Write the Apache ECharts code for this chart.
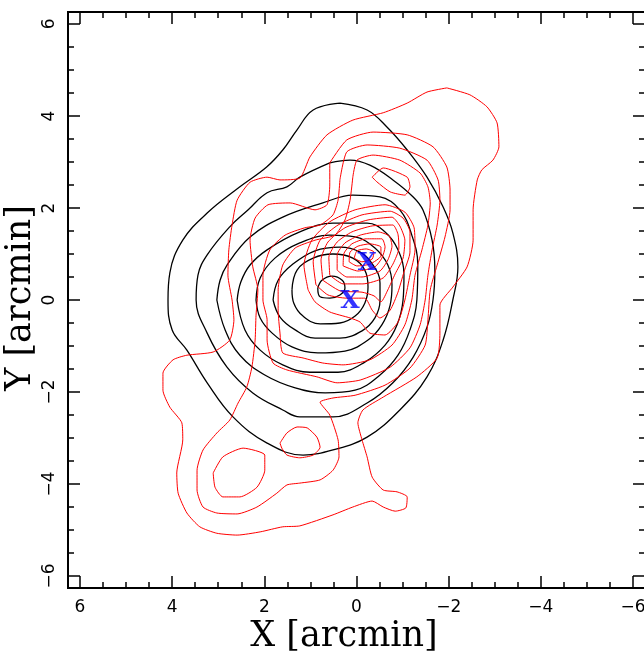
<!DOCTYPE html>
<html>
<head>
<meta charset="utf-8">
<script src="https://cdn.jsdelivr.net/npm/echarts@6.0.0/dist/echarts.min.js"></script>
<style>
  html, body { margin: 0; padding: 0; background: #fff; }
  #chart { width: 644px; height: 656px; }
</style>
</head>
<body>
<div id="chart"></div>
<script>
// axis ticks (arcmin)
var majorTicks = [-6, -4, -2, 0, 2, 4, 6];
var minorTicks = [-6, -5.5, -5, -4.5, -4, -3.5, -3, -2.5, -2, -1.5, -1, -0.5, 0, 0.5, 1, 1.5, 2, 2.5, 3, 3.5, 4, 4.5, 5, 5.5, 6];

// black contours, outer -> inner, [x, y] in arcmin
var black1 = [[0.36,4.28],[0.94,4.13],[1.29,3.70],[1.60,3.26],[1.95,2.89],[2.53,2.46],[3.24,1.89],[3.77,1.30],[4.05,0.59],[4.09,0],[4.00,-0.65],[3.68,-1.09],[3.24,-1.80],[2.68,-2.54],[1.94,-3.11],[1.16,-3.37],[0.51,-3.26],[-0.23,-2.98],[-0.94,-2.39],[-1.53,-1.67],[-1.88,-0.87],[-2.09,0],[-2.20,0.72],[-2.09,1.46],[-1.88,2.02],[-1.53,2.67],[-1.10,3.26],[-0.66,3.76],[-0.23,4.13]];
var black2 = [[0.58,2.98],[0.14,3.04],[-0.29,2.93],[-0.79,2.61],[-1.23,2.24],[-1.44,1.96],[-1.64,1.30],[-1.70,0.65],[-1.66,0],[-1.53,-0.59],[-1.23,-1.24],[-0.79,-1.80],[-0.23,-2.24],[0.51,-2.54],[1.23,-2.54],[1.60,-2.39],[2.25,-2.02],[2.81,-1.46],[3.24,-0.72],[3.48,0],[3.44,0.54],[3.24,0.98],[2.75,1.59],[2.35,1.96],[1.94,2.33],[1.51,2.46],[1.23,2.67]];
var black3 = [[3.03,0],[2.96,0.43],[2.81,0.76],[2.31,1.37],[1.60,1.80],[0.73,2.11],[0.08,2.28],[-0.51,2.24],[-0.94,1.96],[-1.20,1.41],[-1.33,0.76],[-1.31,0],[-1.16,-0.65],[-0.90,-1.20],[-0.51,-1.63],[0.03,-1.96],[0.68,-2.02],[1.33,-1.91],[1.99,-1.63],[2.53,-1.20],[2.85,-0.65]];
var black4 = [[2.59,0],[2.51,0.39],[2.31,0.76],[1.94,1.09],[1.23,1.48],[0.51,1.67],[-0.23,1.67],[-0.62,1.48],[-0.90,1.09],[-1.03,0.54],[-1.01,0],[-0.88,-0.54],[-0.62,-0.98],[-0.18,-1.35],[0.40,-1.57],[1.01,-1.57],[1.60,-1.41],[2.09,-1.09],[2.42,-0.65]];
var black5 = [[2.18,0],[2.09,0.48],[1.77,0.91],[1.23,1.24],[0.58,1.41],[0.03,1.37],[-0.40,1.13],[-0.68,0.76],[-0.77,0.33],[-0.73,-0.11],[-0.55,-0.54],[-0.25,-0.87],[0.25,-1.11],[0.84,-1.15],[1.40,-1.02],[1.83,-0.72],[2.09,-0.39]];
var black6 = [[1.81,0],[1.70,0.43],[1.38,0.78],[0.90,1.07],[0.36,1.15],[-0.08,1.04],[-0.36,0.76],[-0.51,0.37],[-0.51,0],[-0.40,-0.39],[-0.12,-0.67],[0.36,-0.83],[0.90,-0.83],[1.33,-0.65],[1.66,-0.37]];
var black7 = [[1.40,0.22],[1.29,0.65],[0.94,0.91],[0.51,1.00],[0.08,0.91],[-0.18,0.65],[-0.25,0.28],[-0.18,-0.07],[0.03,-0.35],[0.36,-0.50],[0.79,-0.52],[1.16,-0.35],[1.36,-0.07]];
var black8 = [[0.84,0.26],[0.75,0.43],[0.53,0.52],[0.31,0.43],[0.25,0.26],[0.36,0.11],[0.58,0.04],[0.79,0.07]];

// red contours
var redOuter = [[-1.96,4.61],[-2.46,4.46],[-2.83,4.20],[-3.05,3.85],[-3.09,3.33],[-2.96,3.04],[-2.72,2.83],[-2.62,2.61],[-2.53,1.96],[-2.53,1.30],[-2.40,0.72],[-2.09,0.28],[-1.81,-0.11],[-1.81,-0.72],[-1.75,-1.26],[-1.31,-1.67],[-0.58,-2.11],[-0.14,-2.39],[-0.03,-2.67],[-0.12,-3.04],[-0.23,-3.41],[-0.34,-3.85],[-0.58,-4.13],[-0.88,-4.17],[-1.10,-4.28],[-1.07,-4.52],[-0.84,-4.59],[-0.58,-4.50],[-0.34,-4.37],[0.08,-4.50],[0.51,-4.67],[1.23,-4.91],[1.60,-4.93],[2.09,-5.04],[2.59,-5.11],[3.03,-5.07],[3.40,-4.93],[3.68,-4.63],[3.87,-4.20],[3.90,-3.76],[3.77,-3.04],[3.79,-2.67],[4.05,-2.33],[4.20,-1.96],[4.20,-1.59],[3.98,-1.30],[3.68,-1.20],[3.11,-1.13],[2.75,-0.87],[2.66,-0.43],[2.70,0],[2.79,0.54],[2.77,1.09],[2.70,1.63],[2.59,2.17],[2.31,2.56],[1.94,2.67],[1.66,2.61],[1.23,2.65],[1.01,3.11],[0.64,3.59],[0.08,3.91],[-0.58,4.07],[-1.10,4.28],[-1.53,4.52]];
var red2 = [[0.58,2.98],[0.21,3.48],[-0.36,3.65],[-1.10,3.59],[-1.66,3.33],[-1.96,2.89],[-2.03,2.39],[-2.03,1.96],[-1.92,1.37],[-1.75,0.76],[-1.60,0.22],[-1.55,-0.43],[-1.49,-0.98],[-1.16,-1.48],[-0.62,-1.85],[0.03,-2.07],[0.51,-2.13],[0.79,-2.22],[0.58,-2.50],[0.40,-3.04],[0.38,-3.41],[0.51,-3.70],[0.79,-3.91],[1.23,-3.98],[1.51,-4.02],[1.73,-4.20],[2.16,-4.50],[2.59,-4.65],[3.03,-4.63],[3.33,-4.50],[3.46,-4.13],[3.46,-3.70],[3.33,-3.26],[3.03,-2.89],[2.75,-2.61],[2.57,-2.24],[2.38,-1.89],[2.27,-1.46],[2.20,-0.87],[2.18,-0.33],[2.14,0.22],[2.25,0.72],[2.31,1.30],[2.20,1.78],[1.92,2.07],[1.44,2.11],[0.90,1.96],[0.64,2.07],[0.58,2.50]];
var red3 = [[0.36,2.61],[0.21,3.22],[-0.23,3.37],[-0.94,3.30],[-1.53,3.04],[-1.77,2.61],[-1.81,2.17],[-1.75,1.63],[-1.64,1.09],[-1.55,0.54],[-1.49,0],[-1.38,-0.54],[-1.16,-1.04],[-0.73,-1.46],[-0.08,-1.74],[0.42,-1.80],[0.86,-1.67],[1.51,-1.52],[1.81,-1.37],[1.94,-0.87],[1.94,-0.43],[2.03,0],[2.03,0.54],[1.88,1.09],[1.55,1.41],[1.12,1.57],[0.79,1.63],[0.51,1.85],[0.40,2.17]];
var red4 = [[0.08,2.67],[-0.01,3.04],[-0.36,3.15],[-0.94,3.04],[-1.38,2.76],[-1.55,2.46],[-1.60,2.11],[-1.55,1.63],[-1.42,1.09],[-1.27,0.54],[-1.20,0],[-1.05,-0.54],[-0.77,-0.98],[-0.29,-1.30],[0.29,-1.41],[0.73,-1.37],[1.16,-1.26],[1.60,-1.15],[1.66,-0.72],[1.70,-0.22],[1.70,0.22],[1.60,0.76],[1.33,1.13],[0.90,1.30],[0.47,1.41],[0.25,1.74],[0.14,2.17]];
var redTopPeak = [[-0.34,2.67],[-0.58,2.87],[-1.10,2.67],[-1.16,2.46],[-1.05,2.28],[-0.73,2.35],[-0.44,2.57]];
var redCore1 = [[1.05,0.22],[1.14,0.76],[0.97,1.30],[0.58,1.70],[0.03,1.96],[-0.62,2.07],[-1.05,1.91],[-1.25,1.57],[-1.27,1.09],[-1.16,0.54],[-1.05,0],[-0.90,-0.48],[-0.62,-0.76],[-0.29,-0.72],[-0.08,-0.48],[0.14,-0.39],[0.58,-0.26],[0.90,-0.04]];
var redCore2 = [[0.88,0.33],[0.94,0.83],[0.79,1.30],[0.40,1.63],[-0.12,1.85],[-0.73,1.93],[-1.01,1.78],[-1.16,1.48],[-1.16,1.04],[-1.03,0.61],[-0.90,0.17],[-0.73,-0.22],[-0.51,-0.39],[-0.34,-0.22],[-0.18,0.04],[0.21,0.04],[0.62,0.11]];
var redCore3 = [[0.73,0.43],[0.77,0.87],[0.62,1.26],[0.25,1.57],[-0.25,1.74],[-0.77,1.80],[-0.94,1.61],[-1.05,1.30],[-1.01,0.91],[-0.84,0.57],[-0.68,0.22],[-0.53,-0.04],[-0.38,0.09],[-0.12,0.17],[0.36,0.20]];
var redCore4 = [[0.58,0.54],[0.60,0.93],[0.42,1.26],[0.10,1.48],[-0.34,1.61],[-0.79,1.63],[-0.90,1.43],[-0.92,1.13],[-0.79,0.78],[-0.58,0.48],[-0.14,0.35],[0.29,0.35]];
var redCore5 = [[0.42,0.65],[0.42,0.98],[0.25,1.24],[-0.08,1.41],[-0.47,1.48],[-0.71,1.39],[-0.77,1.17],[-0.68,0.87],[-0.51,0.63],[-0.12,0.50],[0.21,0.50]];
var redCore6 = [[0.29,0.74],[0.27,1.02],[0.10,1.22],[-0.21,1.33],[-0.55,1.33],[-0.62,1.15],[-0.55,0.91],[-0.40,0.72],[-0.03,0.63]];
var redCore7 = [[0.16,0.83],[0.14,1.04],[-0.03,1.17],[-0.29,1.22],[-0.53,1.15],[-0.53,0.96],[-0.29,0.78],[-0.01,0.74]];
var redCore8 = [[0.05,0.91],[-0.01,1.07],[-0.21,1.11],[-0.38,1.04],[-0.34,0.89],[-0.12,0.83]];
var redLoopSW = [[3.11,-3.76],[2.90,-3.41],[2.46,-3.22],[1.99,-3.37],[1.99,-3.70],[2.16,-4.07],[2.53,-4.28],[2.90,-4.28],[3.07,-4.07]];
var redLoopS = [[1.66,-3.11],[1.51,-2.89],[1.29,-2.76],[1.07,-2.78],[0.86,-2.98],[0.79,-3.20],[0.94,-3.37],[1.23,-3.43],[1.51,-3.37],[1.62,-3.22]];

// the two X marks
var peaks = [[-0.23, 0.80], [0.14, -0.04]];

var blackSet = [black1, black2, black3, black4, black5, black6, black7, black8];
var redSet = [redOuter, red2, red3, red4, redTopPeak, redCore1, redCore2, redCore3, redCore4,
              redCore5, redCore6, redCore7, redCore8, redLoopSW, redLoopS];

function contour(pts, color, width, smooth) {
    return {
        type: 'line',
        data: pts.concat([pts[0]]),
        symbol: 'none',
        smooth: smooth,
        silent: true,
        lineStyle: { color: color, width: width },
        z: 2
    };
}

function minusSign(v) {
    return String(v).replace('-', '\u2212');
}

var range = 6.26;
var labelFont = { fontFamily: 'DejaVu Sans', fontSize: 17, color: '#000' };

function xAx(pos, major, labels) {
    return {
        type: 'value', min: -range, max: range, inverse: true, position: pos,
        axisLine: { show: false, onZero: false },
        splitLine: { show: false },
        axisTick: { inside: true, length: major ? 12 : 6, customValues: major ? majorTicks : minorTicks,
                    lineStyle: { color: '#000', width: 1.5 } },
        axisLabel: labels ? Object.assign({ customValues: majorTicks, margin: 11, formatter: minusSign }, labelFont)
                          : { show: false }
    };
}
function yAx(pos, major, labels) {
    return {
        type: 'value', min: -range, max: range, position: pos,
        axisLine: { show: false, onZero: false },
        splitLine: { show: false },
        axisTick: { inside: true, length: major ? 12 : 6, customValues: major ? majorTicks : minorTicks,
                    lineStyle: { color: '#000', width: 1.5 } },
        axisLabel: labels ? Object.assign({ customValues: majorTicks, margin: 10, rotate: 90, formatter: minusSign }, labelFont)
                          : { show: false }
    };
}

var series = [];
blackSet.forEach(function (c) { series.push(contour(c, '#000000', 1.3, 0.4)); });
redSet.forEach(function (c) { series.push(contour(c, '#ff0000', 1, 0.2)); });
series.push({
    type: 'scatter',
    data: peaks,
    symbolSize: 1,
    itemStyle: { color: 'rgba(0,0,0,0)' },
    silent: true,
    z: 5,
    label: {
        show: true, position: 'inside', formatter: 'X',
        fontFamily: 'DejaVu Serif', fontWeight: 'bold', fontSize: 25, color: '#0000ff'
    }
});

var chart = echarts.init(document.getElementById('chart'), null, { renderer: 'canvas' });
chart.setOption({
    animation: false,
    backgroundColor: '#fff',
    grid: { left: 68, top: 12, width: 577, height: 576, outerBoundsMode: 'none', containLabel: false,
            show: true, borderColor: '#000', borderWidth: 2, backgroundColor: 'transparent' },
    xAxis: [xAx('bottom', true, true), xAx('bottom', false, false), xAx('top', true, false), xAx('top', false, false)],
    yAxis: [yAx('left', true, true), yAx('left', false, false), yAx('right', true, false), yAx('right', false, false)],
    graphic: [
        { type: 'text', x: 344, y: 619,
          style: { text: 'X [arcmin]', font: '35px "DejaVu Serif"', fill: '#000', textAlign: 'center' } },
        { type: 'text', rotation: Math.PI / 2, x: 3, y: 298,
          style: { text: 'Y [arcmin]', font: '35px "DejaVu Serif"', fill: '#000', textAlign: 'center', textVerticalAlign: 'top' } }
    ],
    series: series
});
</script>
</body>
</html>
